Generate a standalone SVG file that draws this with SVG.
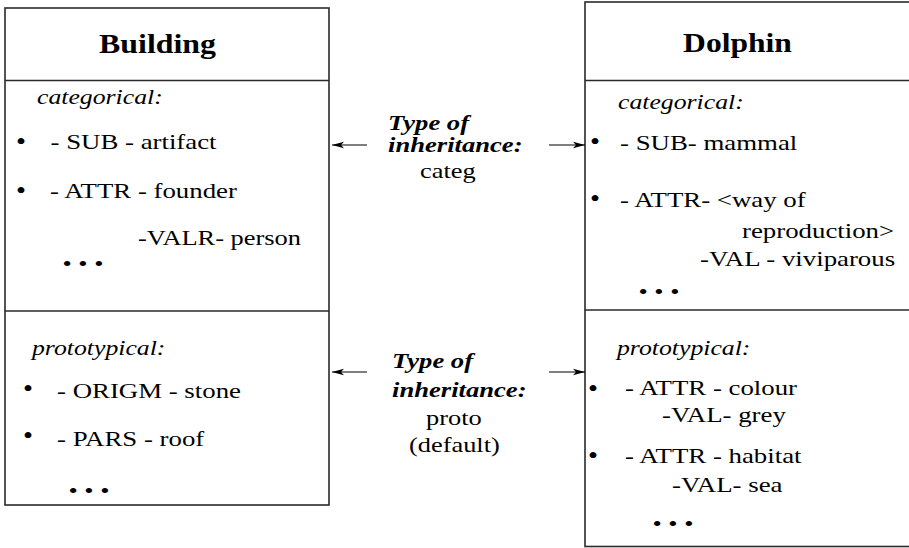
<svg xmlns="http://www.w3.org/2000/svg" width="909" height="548" viewBox="0 0 909 548">
  <defs>
    <marker id="arrow" viewBox="0 0 12 8" refX="12" refY="4" markerWidth="12" markerHeight="8" markerUnits="userSpaceOnUse" orient="auto">
      <path d="M0,0.8 L12,4 L0,7.2 L3,4 Z" fill="#000"/>
    </marker>
  </defs>
  <style>
    .box { fill: #fff; stroke: #2a2a2a; stroke-width: 1.6; }
    .rule { stroke: #2a2a2a; stroke-width: 1.6; }
    .conn { stroke: #000; stroke-width: 1.2; fill: none; marker-end: url(#arrow); }
    .title { font-weight: bold; font-size: 27px; text-anchor: middle; }
    .sec { font-style: italic; }
    .kind { font-style: italic; font-weight: bold; }
    .dot { text-anchor: middle; font-size: 26px; }
  </style>
  <rect width="909" height="548" fill="#fff"/>

  <g font-family="'Liberation Serif', Tinos, 'Times New Roman', 'DejaVu Serif', serif" font-size="22" fill="#000">
  <!-- Building frame -->
  <g id="building">
    <rect class="box" x="5" y="8" width="324" height="497"/>
    <line class="rule" x1="5" y1="80.5" x2="329" y2="80.5"/>
    <line class="rule" x1="5" y1="311" x2="329" y2="311"/>
    <text class="title" transform="translate(157.5 53) scale(1.18 1)">Building</text>
    <text class="sec" transform="translate(37 104) scale(1.17 1)">categorical:</text>
    <text class="dot" transform="translate(21 150) scale(1.1 1)">•</text>
    <text transform="translate(50.5 149) scale(1.22 1)">- SUB - artifact</text>
    <text class="dot" transform="translate(21 199) scale(1.1 1)">•</text>
    <text transform="translate(50 198) scale(1.22 1)">- ATTR - founder</text>
    <text transform="translate(138 245) scale(1.2 1)">-VALR- person</text>
    <text transform="translate(62.5 271) scale(1.2 1)">• • •</text>
    <text class="sec" transform="translate(32 355) scale(1.17 1)">prototypical:</text>
    <text class="dot" transform="translate(28 397) scale(1.1 1)">•</text>
    <text transform="translate(57 398) scale(1.22 1)">- ORIGM - stone</text>
    <text class="dot" transform="translate(28 444) scale(1.1 1)">•</text>
    <text transform="translate(57 446) scale(1.22 1)">- PARS - roof</text>
    <text transform="translate(68.5 498) scale(1.2 1)">• • •</text>
  </g>

  <!-- Dolphin frame -->
  <g id="dolphin">
    <rect class="box" x="585" y="2" width="330" height="544.5"/>
    <line class="rule" x1="585" y1="80.5" x2="915" y2="80.5"/>
    <line class="rule" x1="585" y1="310" x2="915" y2="310"/>
    <text class="title" transform="translate(737.5 52) scale(1.17 1)">Dolphin</text>
    <text class="sec" transform="translate(618 109) scale(1.17 1)">categorical:</text>
    <text class="dot" transform="translate(595 150) scale(1.1 1)">•</text>
    <text transform="translate(620 150) scale(1.22 1)">- SUB- mammal</text>
    <text class="dot" transform="translate(595 207) scale(1.1 1)">•</text>
    <text transform="translate(620 207) scale(1.22 1)">- ATTR- &lt;way of</text>
    <text transform="translate(742 238) scale(1.22 1)">reproduction&gt;</text>
    <text transform="translate(700 266) scale(1.22 1)">-VAL - viviparous</text>
    <text transform="translate(638.5 299) scale(1.2 1)">• • •</text>
    <text class="sec" transform="translate(617 355) scale(1.17 1)">prototypical:</text>
    <text class="dot" transform="translate(593 397) scale(1.1 1)">•</text>
    <text transform="translate(625 395) scale(1.22 1)">- ATTR - colour</text>
    <text transform="translate(662 422) scale(1.22 1)">-VAL- grey</text>
    <text class="dot" transform="translate(593 464) scale(1.1 1)">•</text>
    <text transform="translate(625 463) scale(1.22 1)">- ATTR - habitat</text>
    <text transform="translate(672 492) scale(1.22 1)">-VAL- sea</text>
    <text transform="translate(652.5 531) scale(1.2 1)">• • •</text>
  </g>

  <!-- inheritance labels between the frames -->
  <g id="categ-label">
    <text class="kind" transform="translate(388 130) scale(1.21 1)">Type of</text>
    <text class="kind" transform="translate(388 152) scale(1.21 1)">inheritance:</text>
    <text transform="translate(420 178) scale(1.2 1)">categ</text>
  </g>
  <g id="proto-label">
    <text class="kind" transform="translate(392 368) scale(1.21 1)">Type of</text>
    <text class="kind" transform="translate(392 397) scale(1.21 1)">inheritance:</text>
    <text transform="translate(426 425) scale(1.2 1)">proto</text>
    <text transform="translate(409 452) scale(1.2 1)">(default)</text>
  </g>
  </g>

  <!-- connectors -->
  <g id="connectors">
    <line class="conn" x1="367" y1="145" x2="332" y2="145"/>
    <line class="conn" x1="549" y1="145" x2="585" y2="145"/>
    <line class="conn" x1="367" y1="372" x2="332" y2="372"/>
    <line class="conn" x1="549" y1="372" x2="585" y2="372"/>
  </g>
</svg>
